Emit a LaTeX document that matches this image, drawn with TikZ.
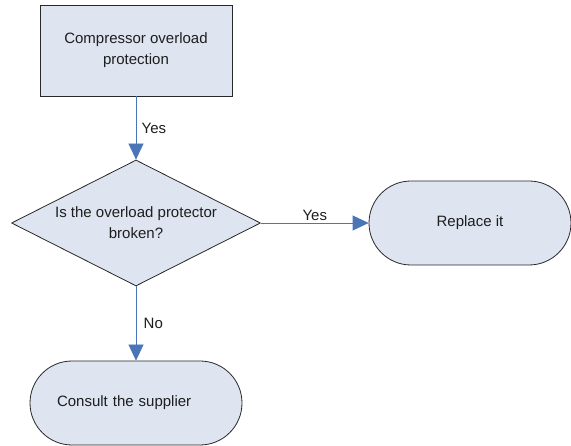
\documentclass[tikz,border=0pt]{standalone}
\usepackage{fontspec}
\setmainfont{Liberation Sans}
\usetikzlibrary{positioning,arrows.meta,shapes.geometric}
\definecolor{flowfill}{RGB}{222,228,240}
\definecolor{flowblue}{RGB}{74,118,184}
\definecolor{flowedge}{RGB}{40,40,40}
\definecolor{flowtext}{RGB}{30,30,30}

\begin{document}
\begin{tikzpicture}[x=1pt,y=-1pt,font=\fontsize{15}{21}\selectfont,
    every node/.style={text=flowtext},
    procbox/.style={draw=flowedge,fill=flowfill,line width=0.8pt,
        minimum width=192pt,minimum height=91pt,align=center},
    decision/.style={draw=flowedge,fill=flowfill,line width=0.8pt,diamond,
        aspect=2,inner sep=1pt,minimum width=249pt,minimum height=126pt,align=center},
    terminal/.style={draw=flowedge,fill=flowfill,line width=0.8pt,
        rounded corners=42pt,minimum height=84pt},
    flowarrow/.style={flowblue,line width=0.8pt,
        -{Triangle[width=15pt,length=16pt]}}]
    \useasboundingbox (0,0) rectangle (571,446);
    % Blocos
    \node[procbox] (prot) at (136,50.5) {Compressor overload\\protection};
    \node[decision] (broken) at (136,223) {Is the overload protector\\broken?};
    \node[terminal,minimum width=202pt] (replace) at (470,223) {Replace it};
    \node[terminal,minimum width=212pt,inner xsep=27pt,text width=158pt,
        align=left] (supplier) at (136,403) {Consult the supplier};
    % Setas
    \draw[flowarrow] (prot) -- node[midway,right,xshift=2pt] (yesone) {Yes} (broken);
    \draw[flowarrow] (broken) -- node[midway,above,yshift=-1pt] (yestwo) {Yes} (replace);
    \draw[flowarrow] (broken) -- node[midway,right,xshift=4pt] (noone) {No} (supplier);
\end{tikzpicture}
\end{document}
